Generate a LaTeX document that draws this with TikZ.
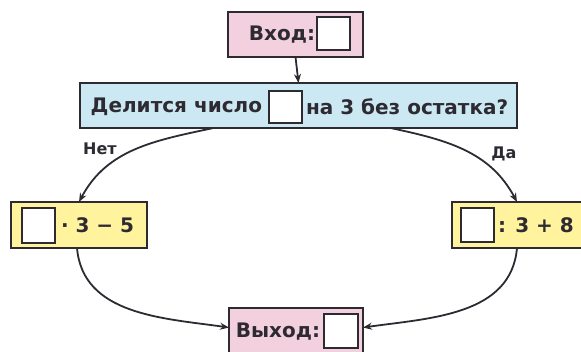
\documentclass[tikz,border=0pt]{standalone}
\usepackage{fontspec}
\setmainfont{DejaVu Sans}
\usepackage{xcolor}
\usetikzlibrary{arrows.meta}
\usetikzlibrary{shapes,positioning}

\definecolor{inpink}{RGB}{242,208,222}
\definecolor{qblue}{RGB}{204,232,242}
\definecolor{opyellow}{RGB}{255,243,158}
\definecolor{inkgray}{RGB}{45,42,50}

\begin{document}
\begin{tikzpicture}[x=1pt,y=-1pt,
    every node/.style={inner sep=0pt, outer sep=0pt},
    framebox/.style={draw=inkgray, line width=2pt, rectangle},
    emptysq/.style={draw=inkgray, line width=2pt, fill=white, minimum width=33pt, minimum height=33pt},
    boxtext/.style={text=inkgray, font=\fontsize{20}{24}\selectfont\bfseries},
    branchtext/.style={text=inkgray, font=\fontsize{16}{20}\selectfont\bfseries},
    flow/.style={draw=inkgray, line width=1.8pt, -{Stealth[length=9pt,width=7pt]}}]
            \useasboundingbox (0,0) rectangle (581,352);

            % the input box
            \node[framebox, fill=inpink, minimum width=135pt, minimum height=45pt] (input) at (295.5,34.5) {};
            \node[boxtext, anchor=east] (inputlbl) at (315,35) {Вход:};
            \node[emptysq] (inputsq) at (333.5,33.5) {};

            % the question box
            \node[framebox, fill=qblue, minimum width=437pt, minimum height=45pt] (question) at (298.5,105.5) {};
            \node[boxtext, anchor=east] (qleft) at (262,107) {Делится число};
            \node[emptysq, minimum height=32pt] (qsq) at (285.5,107) {};
            \node[boxtext, anchor=west] (qright) at (306,107) {на 3 без остатка?};

            % the two operations
            \node[framebox, fill=opyellow, minimum width=136pt, minimum height=46pt] (leftop) at (79,225) {};
            \node[emptysq, minimum height=35pt] (leftsq) at (38.5,225.5) {};
            \node[boxtext, anchor=west] (leftlbl) at (61,225) {· 3 − 5};
            \node[framebox, fill=opyellow, minimum width=140pt, minimum height=46pt] (rightop) at (522,225) {};
            \node[emptysq, minimum height=34pt] (rightsq) at (477,225) {};
            \node[boxtext, anchor=west] (rightlbl) at (498,225) {: 3 + 8};

            % the output box
            \node[framebox, fill=inpink, minimum width=134pt, minimum height=45pt] (output) at (296,330.5) {};
            \node[boxtext, anchor=east] (outputlbl) at (320,332) {Выход:};
            \node[emptysq, minimum width=34pt, minimum height=34pt] (outputsq) at (341,331) {};

            % the arrows and labels
            \draw[flow] (input.south) -- (question.north);
            \draw[flow] ([xshift=-85pt]question.south) to[out=192,in=62] (leftop.north);
            \draw[flow] ([xshift=92pt]question.south) to[out=-12,in=118] ([xshift=-5pt]rightop.north);
            \draw[flow] ([xshift=-2pt]leftop.south) to[out=-85,in=172] ([yshift=3pt]output.west);
            \draw[flow] ([xshift=-5pt]rightop.south) to[out=-95,in=8] ([yshift=3pt]output.east);
            \node[branchtext] (no) at (100,149) {Нет};
            \node[branchtext] (yes) at (504,154) {Да};
        \end{tikzpicture}
\end{document}
